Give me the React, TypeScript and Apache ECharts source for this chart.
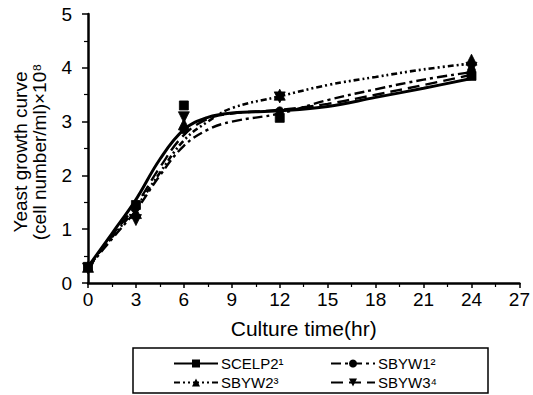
import React, { useEffect, useRef } from "react";
import * as echarts from "echarts";

// Measured samples (markers)
const sampleTimes = [0, 3, 6, 12, 24];
const scelp2Samples = [0.3, 1.45, 3.3, 3.07, 3.85];
const sbyw1Samples = [0.28, 1.4, 2.85, 3.2, 3.95];
const sbyw2Samples = [0.3, 1.3, 2.95, 3.5, 4.15];
const sbyw3Samples = [0.27, 1.17, 3.08, 3.45, 4.0];

// Fitted growth curves
const curveTimes = [0, 1.5, 3, 4.5, 6, 7.5, 9, 12, 15, 18, 21, 24];
const scelp2Curve = [0.3, 0.92, 1.55, 2.3, 2.85, 3.08, 3.16, 3.2, 3.28, 3.45, 3.62, 3.8];
const sbyw1Curve = [0.28, 0.82, 1.35, 2.0, 2.55, 2.85, 3.0, 3.15, 3.4, 3.6, 3.78, 3.92];
const sbyw2Curve = [0.3, 0.85, 1.4, 2.05, 2.65, 3.0, 3.25, 3.47, 3.68, 3.83, 3.97, 4.08];
const sbyw3Curve = [0.28, 0.88, 1.45, 2.15, 2.75, 3.05, 3.15, 3.22, 3.33, 3.5, 3.68, 3.87];

const seriesNames = ["SCELP2¹", "SBYW1²", "SBYW2³", "SBYW3⁴"];
const xAxisTitle = "Culture time(hr)";
const yAxisTitle1 = "Yeast growth curve";
const yAxisTitle2 = "(cell number/ml)×10⁸";

const FONT = "'Liberation Sans', Arial, Helvetica, sans-serif";

const zip = (xs: number[], ys: number[]) => xs.map((x, i) => [x, ys[i]]);

export default function App() {
  const ref = useRef<HTMLDivElement>(null);
  useEffect(() => {
    if (!ref.current) return;
    const chart = echarts.init(ref.current, undefined, { renderer: "svg" });

    const styles = [
      { symbol: "rect", rotate: 0, size: 9, line: { width: 3, type: "solid" as any } },
      { symbol: "circle", rotate: 0, size: 8, line: { width: 2.4, type: [10, 4, 3, 4] as any } },
      { symbol: "triangle", rotate: 0, size: 11, line: { width: 2.6, type: [6, 3, 2, 3, 2, 3] as any } },
      { symbol: "triangle", rotate: 180, size: 11, line: { width: 2.4, type: [12, 6] as any } },
    ];
    const curves = [scelp2Curve, sbyw1Curve, sbyw2Curve, sbyw3Curve];
    const samples = [scelp2Samples, sbyw1Samples, sbyw2Samples, sbyw3Samples];

    const series: any[] = [];
    seriesNames.forEach((name, i) => {
      const s = styles[i];
      series.push({
        name,
        type: "line",
        data: zip(curveTimes, curves[i]),
        smooth: 0.4,
        showSymbol: false,
        symbol: s.symbol,
        symbolRotate: s.rotate,
        symbolSize: s.size,
        lineStyle: { color: "#000", width: s.line.width, type: s.line.type },
        itemStyle: { color: "#000", opacity: 1 },
        z: i === 0 ? 5 : 3,
        silent: true,
      });
      series.push({
        name,
        type: "scatter",
        data: zip(sampleTimes, samples[i]),
        symbol: s.symbol,
        symbolRotate: s.rotate,
        symbolSize: s.size,
        itemStyle: { color: "#000", opacity: 1, borderColor: "#000", borderWidth: 0.8 },
        z: 6,
        silent: true,
      });
    });

    const legendCommon = {
      orient: "vertical",
      itemWidth: 44,
      itemHeight: 10,
      itemGap: 4,
      padding: 0,
      textStyle: { fontFamily: FONT, fontSize: 15, color: "#000", padding: [0, 0, 0, -2] },
      selectedMode: false,
    };

    chart.setOption({
      animation: false,
      backgroundColor: "#fff",
      grid: { left: 88, right: 13, top: 14, bottom: 112, containLabel: false },
      xAxis: {
        type: "value",
        min: 0,
        max: 27,
        interval: 3,
        name: xAxisTitle,
        nameLocation: "middle",
        nameGap: 35,
        nameTextStyle: { fontFamily: FONT, fontSize: 21, color: "#000" },
        axisLine: { onZero: false, lineStyle: { color: "#000", width: 2.5 } },
        axisTick: { show: true, length: 5, lineStyle: { color: "#000", width: 1.5 } },
        minorTick: { show: true, splitNumber: 2, length: 4, lineStyle: { color: "#000", width: 1.2 } },
        splitLine: { show: false },
        axisLabel: { fontFamily: FONT, fontSize: 19, color: "#000", margin: 7 },
      },
      yAxis: {
        type: "value",
        min: 0,
        max: 5,
        interval: 1,
        axisLine: { show: true, onZero: false, lineStyle: { color: "#000", width: 2.5 } },
        axisTick: { show: true, length: 6, lineStyle: { color: "#000", width: 1.5 } },
        minorTick: { show: true, splitNumber: 2, length: 4, lineStyle: { color: "#000", width: 1.2 } },
        splitLine: { show: false },
        axisLabel: { fontFamily: FONT, fontSize: 19, color: "#000", margin: 16 },
      },
      legend: [
        { ...legendCommon, data: [seriesNames[0], seriesNames[2]], left: 173, top: 356 },
        { ...legendCommon, data: [seriesNames[1], seriesNames[3]], left: 330, top: 356 },
      ],
      graphic: [
        {
          type: "rect",
          shape: { x: 133, y: 348, width: 355, height: 45 },
          style: { fill: "none", stroke: "#000", lineWidth: 1.5 },
          silent: true,
        },
        {
          type: "text",
          x: 20,
          y: 152,
          rotation: Math.PI / 2,
          style: {
            text: yAxisTitle1,
            fontFamily: FONT,
            fontSize: 19,
            fill: "#000",
            align: "center",
            verticalAlign: "middle",
          },
          silent: true,
        },
        {
          type: "text",
          x: 39,
          y: 152,
          rotation: Math.PI / 2,
          style: {
            text: yAxisTitle2,
            fontFamily: FONT,
            fontSize: 19,
            fill: "#000",
            align: "center",
            verticalAlign: "middle",
          },
          silent: true,
        },
      ],
      series,
    });
    return () => chart.dispose();
  }, []);
  return (
    <div
      ref={ref}
      style={{ position: "absolute", left: 0, top: 0, width: 533, height: 395, background: "#fff" }}
    />
  );
}
